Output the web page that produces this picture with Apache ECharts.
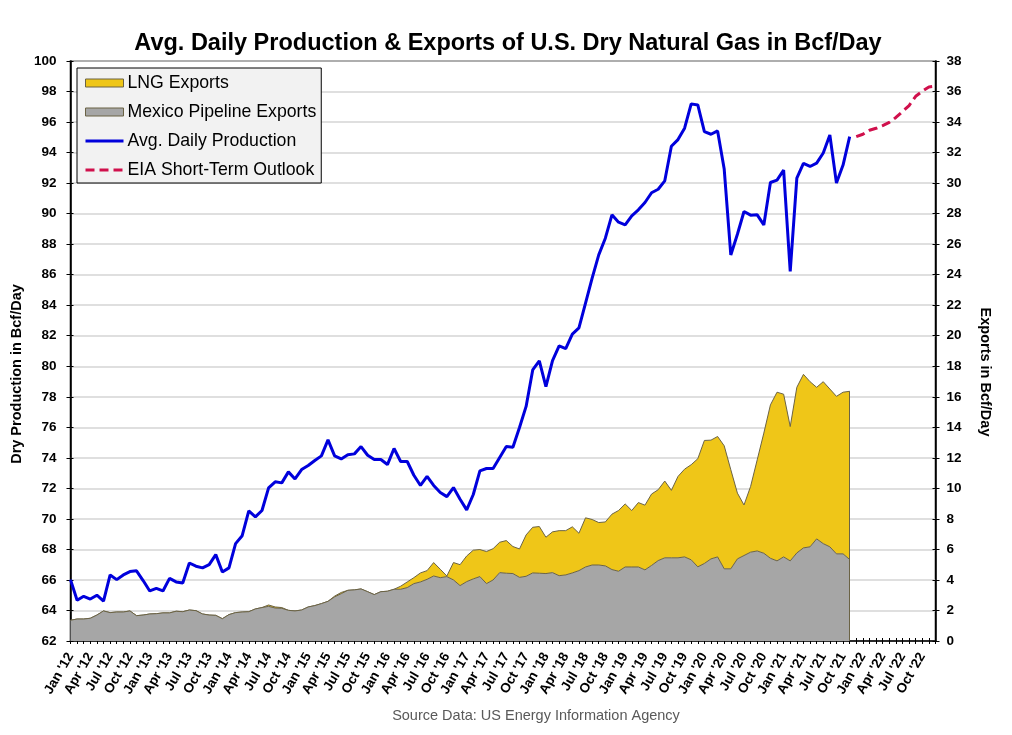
<!DOCTYPE html>
<html><head><meta charset="utf-8">
<style>html,body{margin:0;padding:0;background:#fff}#c{width:1012px;height:735px}</style>
<script src="https://cdn.jsdelivr.net/npm/echarts@6/dist/echarts.min.js"></script>
</head><body><div id="c"></div>
<script>
const monthNames = ["Jan","Feb","Mar","Apr","May","Jun","Jul","Aug","Sep","Oct","Nov","Dec"];
const yearNames = ["12","13","14","15","16","17","18","19","20","21","22"];
const categories = yearNames.flatMap(y => monthNames.map(m => m + " '" + y));

const production = [
66.02,64.67,64.93,64.75,65.0,64.62,66.33,66.02,66.33,66.55,66.6,65.96,
65.28,65.45,65.28,66.1,65.87,65.8,67.11,66.9,66.79,67.0,67.66,66.52,
66.79,68.38,68.9,70.52,70.13,70.55,72.03,72.43,72.36,73.08,72.62,73.23,
73.5,73.83,74.13,75.18,74.13,73.93,74.2,74.26,74.74,74.17,73.89,73.89,
73.56,74.61,73.76,73.76,72.86,72.19,72.78,72.19,71.73,71.46,72.05,71.29,
70.59,71.6,73.15,73.3,73.3,74.02,74.74,74.7,75.99,77.37,79.76,80.35,
78.67,80.37,81.33,81.16,82.1,82.51,84.13,85.77,87.3,88.39,89.92,89.44,
89.27,89.86,90.25,90.73,91.37,91.6,92.15,94.41,94.85,95.6,97.19,97.12,
95.37,95.2,95.42,92.92,87.29,88.65,90.14,89.9,89.92,89.26,92.04,92.2,
92.85,86.22,92.33,93.29,93.09,93.31,93.97,95.15,92.0,93.18,95.04];

const outlook = [95.04,95.2,95.46,95.59,95.77,95.98,96.3,96.69,97.08,97.69,98.02,98.3,98.35];

const mexico = [
1.36,1.44,1.44,1.49,1.7,1.97,1.86,1.9,1.9,1.97,1.66,1.7,
1.77,1.79,1.84,1.84,1.95,1.92,2.03,1.99,1.77,1.7,1.68,1.46,
1.73,1.86,1.9,1.92,2.1,2.19,2.27,2.16,2.14,2.01,1.97,2.03,
2.23,2.32,2.45,2.6,2.89,3.1,3.32,3.35,3.41,3.23,3.04,3.23,
3.26,3.39,3.39,3.5,3.76,3.87,4.04,4.26,4.15,4.22,4.0,3.63,
3.89,4.07,4.22,3.76,4.0,4.48,4.44,4.42,4.17,4.24,4.46,4.44,
4.42,4.48,4.28,4.33,4.46,4.61,4.85,4.98,4.98,4.92,4.68,4.57,
4.85,4.85,4.85,4.66,4.95,5.27,5.45,5.45,5.45,5.51,5.32,4.86,
5.08,5.38,5.51,4.73,4.73,5.38,5.6,5.82,5.9,5.75,5.42,5.25,
5.51,5.25,5.77,6.1,6.17,6.69,6.38,6.17,5.71,5.71,5.34];

const lng = [
0,0,0,0,0,0,0,0,0,0,0,0,
0,0,0,0,0,0,0,0,0,0,0,0,
0,0,0,0,0,0,0.09,0.07,0.05,0,0,0,
0,0,0,0,0.05,0.08,0,0,0,0,0,0,
0,0,0.2,0.37,0.39,0.59,0.57,0.88,0.55,0.04,1.14,1.37,
1.68,1.88,1.77,2.1,2.05,1.99,2.14,1.77,1.86,2.71,2.99,3.06,
2.38,2.67,2.95,2.9,3.02,2.45,3.22,2.98,2.78,2.88,3.63,3.98,
4.13,3.7,4.22,4.24,4.68,4.64,5.03,4.42,5.33,5.75,6.23,7.08,
8.06,7.78,7.89,8.06,6.49,4.31,3.31,4.31,5.97,7.87,10.05,11.05,
10.66,8.8,10.85,11.37,10.82,9.93,10.61,10.34,10.32,10.59,11.02];

const FONT = '"Liberation Sans", Arial, sans-serif';
const EDGE = '#6b6345';
const lastIdx = mexico.length - 1;
const noDot = {color:'transparent', borderColor:'transparent', borderWidth:0};

function tickAxisY(min, max, pos) {
  return {type:'value', min, max, interval:2, position:pos, silent:true,
    axisLine:{show:false}, splitLine:{show:false}, axisLabel:{show:false},
    axisTick:{show:true, inside:true, length:3, lineStyle:{color:'#000', width:1}}};
}

const chart = echarts.init(document.getElementById('c'), null, {renderer:'canvas'});
chart.setOption({
  animation:false,
  backgroundColor:'#fff',
  textStyle:{fontFamily:FONT},
  title:[
    {text:'Avg. Daily Production & Exports of U.S. Dry Natural Gas in Bcf/Day', left:508, top:32, padding:0, textAlign:'center',
     textStyle:{fontSize:23.5, fontWeight:'bold', color:'#000', fontFamily:FONT}},
    {text:'Source Data: US Energy Information Agency', left:536, top:708, padding:0, textAlign:'center',
     textStyle:{fontSize:14.5, fontWeight:'normal', color:'#595959', fontFamily:FONT}}
  ],
  graphic:[
    {type:'text', x:17, y:374, rotation:Math.PI/2, silent:true,
     style:{text:'Dry Production in Bcf/Day', align:'center', verticalAlign:'middle', fill:'#000', font:'bold 14.5px "Liberation Sans", Arial, sans-serif'}},
    {type:'text', x:985, y:372, rotation:-Math.PI/2, silent:true,
     style:{text:'Exports in Bcf/Day', align:'center', verticalAlign:'middle', fill:'#000', font:'bold 14.5px "Liberation Sans", Arial, sans-serif'}}
  ],
  legend:{
    left:77, top:68, orient:'vertical', itemGap:11, itemWidth:38, itemHeight:20,
    padding:[6,5,4,7], backgroundColor:'#f2f2f2', borderColor:'#000', borderWidth:1, borderRadius:0,
    textStyle:{fontSize:17.7, color:'#000', fontFamily:FONT, padding:[0,0,0,-1]},
    data:[
      {name:'LNG Exports', icon:'path://M0,6H38V14H0Z', itemStyle:{color:'#EFC618', borderColor:EDGE, borderWidth:1}},
      {name:'Mexico Pipeline Exports', icon:'path://M0,6H38V14H0Z', itemStyle:{color:'#A6A6A6', borderColor:EDGE, borderWidth:1}},
      {name:'Avg. Daily Production', itemStyle:noDot, lineStyle:{width:3}},
      {name:'EIA Short-Term Outlook', itemStyle:noDot, lineStyle:{width:3}}
    ]
  },
  grid:{left:70.5, top:61, width:865, height:580, show:true, borderColor:'#000', borderWidth:1.5, backgroundColor:'transparent', outerBoundsMode:'none'},
  xAxis:[
    {type:'category', data:categories, boundaryGap:false, position:'bottom',
     axisLine:{show:true, onZero:false, lineStyle:{color:'#000', width:1.5}},
     axisTick:{show:true, interval:0, length:3, lineStyle:{color:'#000', width:1}},
     axisLabel:{interval:2, rotate:60, margin:13, fontSize:13.5, fontWeight:'bold', color:'#000', fontFamily:FONT},
     splitLine:{show:false}},
    {type:'category', data:categories, boundaryGap:false, position:'bottom', silent:true,
     axisLine:{show:false}, axisLabel:{show:false}, splitLine:{show:false},
     axisTick:{show:true, inside:true, interval:0, length:3, lineStyle:{color:'#000', width:1}}}
  ],
  yAxis:[
    {type:'value', min:62, max:100, interval:2, position:'left',
     axisLine:{show:true, onZero:false, lineStyle:{color:'#000', width:1.5}},
     axisTick:{show:true, length:4, lineStyle:{color:'#000', width:1}},
     axisLabel:{fontSize:13.5, fontWeight:'bold', color:'#000', margin:14, fontFamily:FONT},
     splitLine:{show:true, lineStyle:{color:'#d4d4d4', width:1.5}}},
    {type:'value', min:0, max:38, interval:2, position:'right',
     axisLine:{show:true, onZero:false, lineStyle:{color:'#000', width:1.5}},
     axisTick:{show:true, length:4, lineStyle:{color:'#000', width:1}},
     axisLabel:{fontSize:13.5, fontWeight:'bold', color:'#000', margin:11, fontFamily:FONT},
     splitLine:{show:false}},
    tickAxisY(62,100,'left'),
    tickAxisY(0,38,'right')
  ],
  series:[
    {name:'Mexico Pipeline Exports', type:'line', yAxisIndex:1, stack:'exports', data:mexico, showSymbol:false, symbol:'none', z:2,
     lineStyle:{color:EDGE, width:1}, itemStyle:{color:'#A6A6A6'}, areaStyle:{color:'#A6A6A6', opacity:1}},
    {name:'LNG Exports', type:'line', yAxisIndex:1, stack:'exports', data:lng, showSymbol:false, symbol:'none', z:1,
     lineStyle:{color:EDGE, width:1}, itemStyle:{color:'#EFC618'}, areaStyle:{color:'#EFC618', opacity:1},
     markLine:{silent:true, symbol:'none', animation:false, label:{show:false}, lineStyle:{color:EDGE, width:1, type:'solid'},
       data:[[{coord:[categories[lastIdx],0]},{coord:[categories[lastIdx],mexico[lastIdx]+lng[lastIdx]]}]]}},
    {name:'Avg. Daily Production', type:'line', yAxisIndex:0, data:production, showSymbol:false, symbol:'none', z:5,
     lineStyle:{color:'#0000DC', width:3}, itemStyle:{color:'#0000DC'}},
    {name:'EIA Short-Term Outlook', type:'line', yAxisIndex:0, data:Array(production.length).fill(null).concat(outlook), showSymbol:false, symbol:'none', z:5,
     lineStyle:{color:'#D0104C', width:3, type:[9,5]}, itemStyle:{color:'#D0104C'}}
  ]
});
</script></body></html>
